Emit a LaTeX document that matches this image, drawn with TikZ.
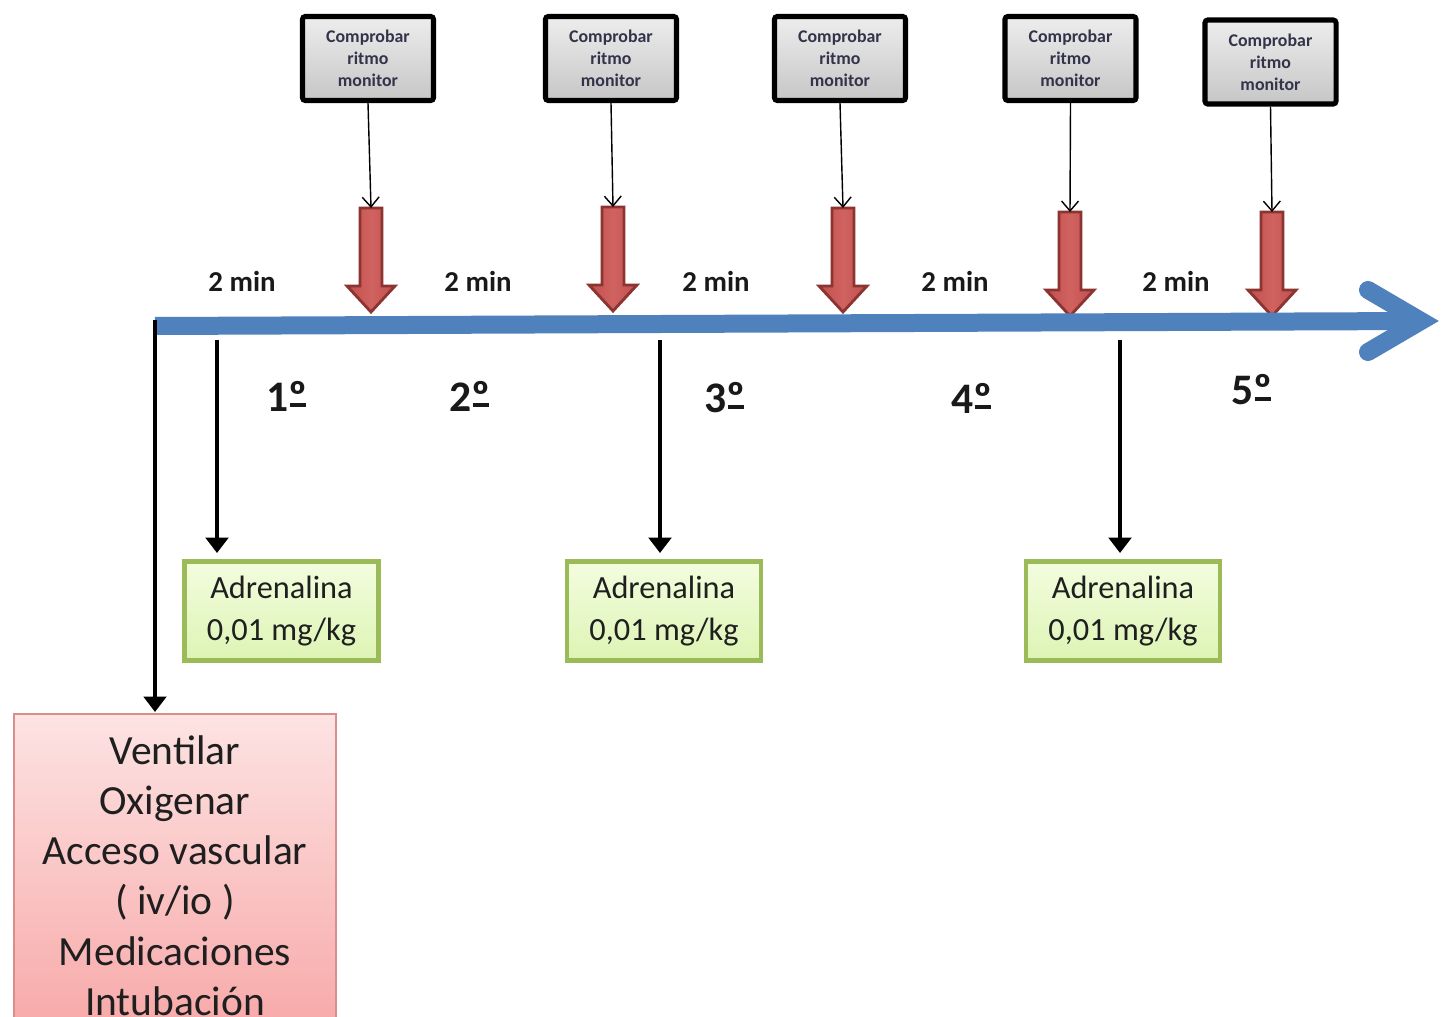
\documentclass[tikz,border=0pt]{standalone}
\usepackage{fontspec}
\setmainfont{Carlito}
\usetikzlibrary{arrows.meta}
\definecolor{chkTop}{HTML}{EDEDED}
\definecolor{chkBot}{HTML}{C6C6C6}
\definecolor{chkText}{HTML}{33334A}
\definecolor{doseBorder}{HTML}{9BBB59}
\definecolor{doseTop}{HTML}{F3FDDF}
\definecolor{doseBot}{HTML}{DDF4B4}
\definecolor{actTop}{HTML}{FDE3E3}
\definecolor{actBot}{HTML}{F7A3A3}
\definecolor{actBorder}{HTML}{D98E8C}
\definecolor{timeBlue}{HTML}{4F81BD}
\definecolor{shockFill}{HTML}{C0504D}
\definecolor{shockMid}{HTML}{D0625F}
\definecolor{shockEdge}{HTML}{8C3431}
% ordinal indicator with an underbar beneath the raised o
\newcommand\ordbar{\setbox0\hbox{º}\rlap{\hbox to\wd0{\hss\rule[0.1em]{0.85\wd0}{0.085em}\hss}}\box0}
\begin{document}
\begin{tikzpicture}[x=0.025cm,y=-0.025cm,
  checkbox/.style={draw=black, line width=3.6pt, rounded corners=2pt,
    top color=chkTop, bottom color=chkBot, minimum width=3.275cm,
    minimum height=2.1cm, inner sep=0pt, align=center, text=chkText,
    font=\fontsize{12.7}{15.6}\selectfont\bfseries},
  dosebox/.style={draw=doseBorder, line width=3.5pt,
    top color=doseTop, bottom color=doseBot, minimum width=4.85cm,
    minimum height=2.475cm, inner sep=0pt, align=center, text=black!88,
    font=\fontsize{23}{29.9}\selectfont},
  interval/.style={font=\fontsize{20.5}{24}\selectfont\bfseries, text=black!90},
  cycle/.style={font=\fontsize{31}{36}\selectfont\bfseries, text=black!90},
  thinarrow/.style={draw=black, line width=1pt, -{Straight Barb[length=7pt,width=12pt]}},
  dosearrow/.style={draw=black, line width=2.8pt, -{Triangle[length=11pt,width=16pt]}},
  shock/.pic={
    \draw[line width=2pt, shockEdge, left color=shockFill, right color=shockFill,
      middle color=shockMid, line join=miter]
      (-11,0) -- (11,0) -- (11,78) -- (24,78) -- (0,104) -- (-24,78) -- (-11,78) -- cycle;
  }]
\useasboundingbox (0,0) rectangle (1441,1017);
\clip (0,0) rectangle (1441,1017);

% rhythm checks above the timeline
\node[checkbox] (g1) at (368,58.5) {Comprobar\\ritmo\\monitor};
\node[checkbox] (g2) at (611,58.5) {Comprobar\\ritmo\\monitor};
\node[checkbox] (g3) at (840,58.5) {Comprobar\\ritmo\\monitor};
\node[checkbox] (g4) at (1070.5,58.5) {Comprobar\\ritmo\\monitor};
\node[checkbox] (g5) at (1270.5,62) {Comprobar\\ritmo\\monitor};

% red block arrows onto the timeline
\coordinate (r1) at (371,208);
\coordinate (r2) at (613,207);
\coordinate (r3) at (843,208);
\coordinate (r4) at (1070,212);
\coordinate (r5) at (1272,212);
\foreach \i in {1,...,5} {
  \pic at (r\i) {shock};
  \draw[thinarrow] (g\i.south) -- (r\i);
}

% timeline
\coordinate (t0) at (155,326);
\coordinate (t1) at (1421,321);
\draw[timeBlue, line width=12.8pt] (t0) -- (t1);
\draw[timeBlue, line width=12.8pt, line cap=round, line join=miter]
  (1368,290) -- (t1) -- (1368,352);

% interval labels
\node[interval] (m1) at (242,281) {2 min};
\node[interval] (m2) at (478,281) {2 min};
\node[interval] (m3) at (716,281) {2 min};
\node[interval] (m4) at (955,281) {2 min};
\node[interval] (m5) at (1176,281) {2 min};

% cycle numbers
\node[cycle] (c1) at (287,396) {1\ordbar};
\node[cycle] (c2) at (470,396) {2\ordbar};
\node[cycle] (c3) at (725,398) {3\ordbar};
\node[cycle] (c4) at (972,398) {4\ordbar};
\node[cycle] (c5) at (1252,390) {5\ordbar};

% adrenaline doses
\node[dosebox] (a1) at (281.5,611) {Adrenalina\\0,01 mg/kg};
\node[dosebox] (a2) at (664,611) {Adrenalina\\0,01 mg/kg};
\node[dosebox] (a3) at (1123,611) {Adrenalina\\0,01 mg/kg};
\coordinate (d1) at (217,340);
\coordinate (d2) at (660,340);
\coordinate (d3) at (1120,340);
\foreach \i in {1,2,3}
  \draw[dosearrow] (d\i) -- ([yshift=0.15cm]d\i |- a\i.north);

% initial actions
\draw[actBorder, line width=1.6pt, top color=actTop, bottom color=actBot]
  (14,714) rectangle (336,1060);
\coordinate (act) at (155,714);
\node[font=\fontsize{29.5}{35.6}\selectfont, text=black!88, align=center, anchor=north]
  (acts) at (175,731) {Ventilar\\Oxigenar\\Acceso vascular\\( iv/io )\\Medicaciones\\Intubación};
\draw[dosearrow, line width=2.6pt] ([yshift=0.15cm]t0) -- ([yshift=0.05cm]act);
\end{tikzpicture}
\end{document}
